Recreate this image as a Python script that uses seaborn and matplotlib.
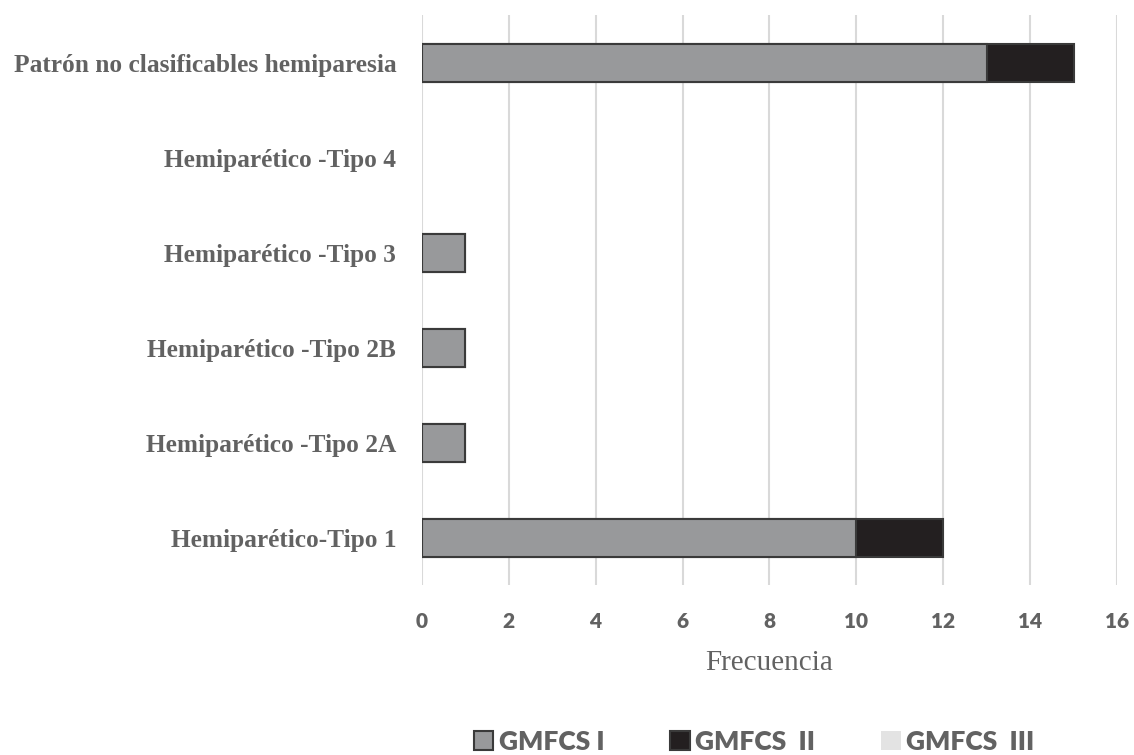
import matplotlib
matplotlib.use("Agg")
import matplotlib.pyplot as plt
import seaborn as sns
import pandas as pd
from matplotlib.patches import Patch

categories = [
    "Patrón no clasificables hemiparesia",
    "Hemiparético -Tipo 4",
    "Hemiparético -Tipo 3",
    "Hemiparético -Tipo 2B",
    "Hemiparético -Tipo 2A",
    "Hemiparético-Tipo 1",
]
gmfcs_1 = [13, 0, 1, 1, 1, 10]
gmfcs_2 = [2, 0, 0, 0, 0, 2]
gmfcs_3 = [0, 0, 0, 0, 0, 0]
series_names = ["GMFCS I", "GMFCS  II", "GMFCS  III"]
x_ticks = [0, 2, 4, 6, 8, 10, 12, 14, 16]

col_1 = "#98999b"
col_2 = "#231f20"
col_3 = "#e3e3e3"
edge = "#3a3a3a"
text_gray = "#626262"
num_font = "Lato"

sns.set_theme(style="white")

df = pd.DataFrame({
    "cat": categories,
    "s1": gmfcs_1,
    "s12": [a + b for a, b in zip(gmfcs_1, gmfcs_2)],
    "s123": [a + b + c for a, b, c in zip(gmfcs_1, gmfcs_2, gmfcs_3)],
})

fig = plt.figure(figsize=(11.34, 7.55), dpi=100)
ax = fig.add_axes([0.372, 0.225, 0.613, 0.755])

# stacked bars: draw cumulative totals back to front
sns.barplot(data=df, y="cat", x="s123", color=col_3, width=0.4, ax=ax,
            orient="h", linewidth=0, zorder=3)
sns.barplot(data=df, y="cat", x="s12", color=col_2, width=0.4, ax=ax,
            orient="h", edgecolor=edge, linewidth=1.5, saturation=1, zorder=3)
sns.barplot(data=df, y="cat", x="s1", color=col_1, width=0.4, ax=ax,
            orient="h", edgecolor=edge, linewidth=1.5, saturation=1, zorder=4)
for p in ax.patches:
    if p.get_width() == 0:
        p.set_visible(False)

ax.set_xlim(0, 16)
ax.set_ylim(5.5, -0.5)
ax.set_xticks(x_ticks)
ax.set_xticklabels([str(t) for t in x_ticks], family=num_font,
                   fontweight="heavy", fontsize=15, color=text_gray)
ax.set_yticklabels(categories, family="Liberation Serif", fontweight="bold",
                   fontsize=18.3, color=text_gray)
ax.tick_params(axis="x", length=0, pad=19)
ax.tick_params(axis="y", length=0, pad=18.5)
ax.grid(axis="x", color="#d9d9d9", linewidth=1.5, zorder=0)
ax.set_axisbelow(True)
for s in ax.spines.values():
    s.set_visible(False)
ax.set_ylabel("")
ax.set_xlabel("Frecuencia", family="Liberation Serif",
              fontsize=21, color=text_gray, labelpad=14)

handles = [
    Patch(facecolor=col_1, edgecolor=edge, linewidth=1.5),
    Patch(facecolor=col_2, edgecolor=edge, linewidth=1.5),
    Patch(facecolor=col_3, edgecolor=col_3, linewidth=0),
]
leg = fig.legend(handles, series_names, loc="lower center", ncol=3,
                 bbox_to_anchor=(0.665, -0.03), frameon=False,
                 prop={"family": num_font, "weight": "heavy", "size": 19},
                 handlelength=0.75, handleheight=0.75, handletextpad=0.2,
                 columnspacing=2.5)
for t in leg.get_texts():
    t.set_color(text_gray)

fig.savefig("out.png", dpi=100, facecolor="white")
